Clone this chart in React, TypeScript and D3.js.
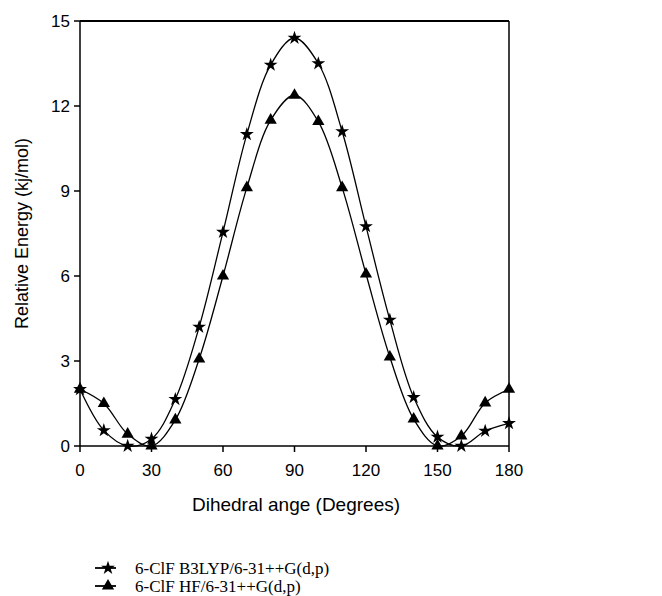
import React from "react";
import * as d3 from "d3";

const angles = [0, 10, 20, 30, 40, 50, 60, 70, 80, 90, 100, 110, 120, 130, 140, 150, 160, 170, 180];
const b3lyp = [2.0, 0.55, 0.0, 0.25, 1.65, 4.2, 7.55, 11.0, 13.45, 14.4, 13.5, 11.1, 7.75, 4.45, 1.72, 0.32, 0.0, 0.53, 0.8];
const hf = [2.0, 1.5, 0.42, 0.0, 0.92, 3.07, 6.0, 9.12, 11.5, 12.38, 11.45, 9.12, 6.07, 3.14, 0.95, 0.0, 0.35, 1.52, 2.0];
const xTicks = [0, 30, 60, 90, 120, 150, 180];
const yTicks = [0, 3, 6, 9, 12, 15];
const seriesNames = ["6-ClF B3LYP/6-31++G(d,p)", "6-ClF HF/6-31++G(d,p)"];

export default function App() {
  const width = 662;
  const height = 596;
  const left = 80;
  const right = 509;
  const top = 21;
  const bottom = 446;

  const xScale = d3.scaleLinear().domain([0, 180]).range([left, right]);
  const yScale = d3.scaleLinear().domain([0, 15]).range([bottom, top]);

  const line = d3
    .line<number>()
    .x((d, i) => xScale(angles[i]))
    .y((d) => yScale(d))
    .curve(d3.curveCatmullRom.alpha(0.5));

  const star = d3.symbol().type(d3.symbolStar).size(60)();
  const tri = d3.symbol().type(d3.symbolTriangle).size(65)();

  const series = [
    { name: seriesNames[0], values: b3lyp, shape: star },
    { name: seriesNames[1], values: hf, shape: tri },
  ];

  const sans = "Arial, 'Liberation Sans', sans-serif";

  return (
    <svg width={width} height={height} style={{ position: "absolute", left: 0, top: 0 }}>
      <defs>
        <clipPath id="plot">
          <rect x={left} y={top} width={right - left} height={bottom - top + 2} />
        </clipPath>
      </defs>
      <rect width={width} height={height} fill="#fff" />

      {/* frame */}
      <line x1={left} x2={right} y1={top} y2={top} stroke="#000" strokeWidth={2} />
      <line x1={right} x2={right} y1={top} y2={bottom} stroke="#000" strokeWidth={1.5} />
      <line x1={left} x2={left} y1={top} y2={bottom} stroke="#000" strokeWidth={1.5} />
      <line x1={left} x2={right} y1={bottom} y2={bottom} stroke="#000" strokeWidth={1.5} />

      {yTicks.map((t) => (
        <g key={"y" + t}>
          <line x1={left - 6} x2={left} y1={yScale(t)} y2={yScale(t)} stroke="#000" strokeWidth={1.5} />
          <text x={left - 10} y={yScale(t)} dy="0.35em" textAnchor="end" fontFamily={sans} fontSize={17}>
            {t}
          </text>
        </g>
      ))}
      {xTicks.map((t) => (
        <g key={"x" + t}>
          <line x1={xScale(t)} x2={xScale(t)} y1={bottom} y2={bottom + 6} stroke="#000" strokeWidth={1.5} />
          <text x={xScale(t)} y={bottom + 30} textAnchor="middle" fontFamily={sans} fontSize={17}>
            {t}
          </text>
        </g>
      ))}

      <text
        transform={`translate(28,${(top + bottom) / 2}) rotate(-90)`}
        textAnchor="middle"
        fontFamily={sans}
        fontSize={18}
      >
        Relative Energy (kj/mol)
      </text>
      <text x={296} y={511} textAnchor="middle" fontFamily={sans} fontSize={19}>
        Dihedral ange (Degrees)
      </text>

      <g clipPath="url(#plot)">
        {series.map((s) => (
          <path key={s.name} d={line(s.values) ?? ""} fill="none" stroke="#000" strokeWidth={1.3} />
        ))}
      </g>
      {series.map((s) =>
        s.values.map((v, i) => (
          <path key={s.name + i} d={s.shape} transform={`translate(${xScale(angles[i])},${yScale(v)})`} fill="#000" />
        ))
      )}

      {series.map((s, i) => (
        <g key={"leg" + i} transform={`translate(0,${568 + i * 18})`}>
          <line x1={95} x2={116} y1={0} y2={0} stroke="#000" strokeWidth={1.8} />
          <path d={s.shape} transform="translate(108,0)" fill="#000" />
          <text x={135} y={0} dy="0.35em" fontFamily="'Times New Roman', 'Liberation Serif', serif" fontSize={17}>
            {s.name}
          </text>
        </g>
      ))}
    </svg>
  );
}
